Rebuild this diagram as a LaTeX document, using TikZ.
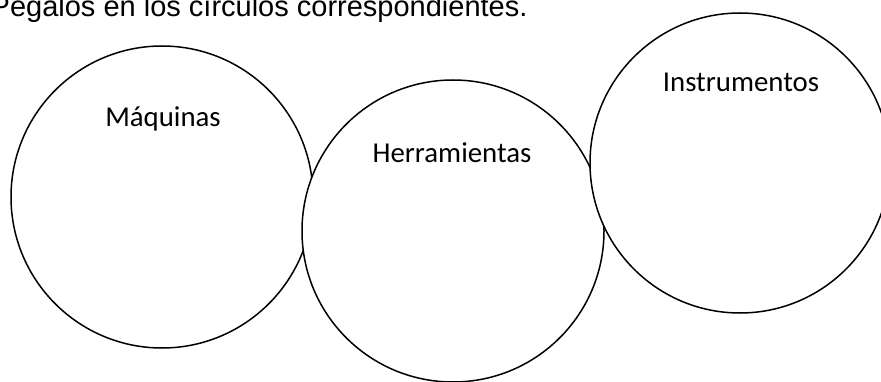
\documentclass[tikz,border=0pt]{standalone}
\usepackage{fontspec}
\setmainfont{Carlito}
\newfontfamily\arialfont{Liberation Sans}
\begin{document}
\begin{tikzpicture}[x=1pt,y=1pt,
  ring/.style={circle,draw=black,fill=white,line width=1.5pt,inner sep=0pt,minimum size=#1},
  lbl/.style={font=\fontsize{28.8}{33}\selectfont,anchor=base,inner sep=0pt},
  title/.style={font=\arialfont\fontsize{29}{34}\selectfont,anchor=base west,inner sep=0pt}]
\useasboundingbox (0,0) rectangle (881,-382);
\clip (0,0) rectangle (881,-382);
\fill[white] (0,0) rectangle (881,-382);
\node[title] (t) at (-9.5,-17) {Pégalos en los círculos correspondientes.};
\node[ring=302pt] (maq) at (162,-197) {};
\node[ring=302pt] (her) at (453,-231) {};
\node[ring=300pt] (ins) at (740,-163) {};
\node[lbl] (lmaq) at (163,-127) {Máquinas};
\node[lbl] (lher) at (452,-163) {Herramientas};
\node[lbl] (lins) at (741,-92) {Instrumentos};
\end{tikzpicture}
\end{document}
